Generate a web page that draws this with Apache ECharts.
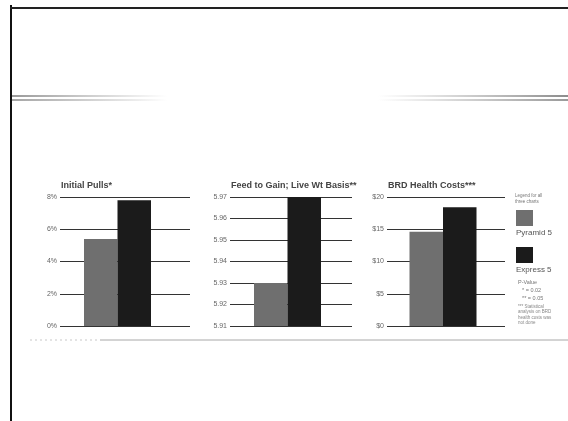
<!DOCTYPE html>
<html>
<head>
<meta charset="utf-8">
<script src="https://cdn.jsdelivr.net/npm/echarts@6/dist/echarts.min.js"></script>
<style>
  html, body { margin: 0; padding: 0; background: #fff; }
  #chart { width: 568px; height: 421px; }
</style>
</head>
<body>
<div id="chart"></div>
<script>
// Trial results, one panel per measure
const products = ['Pyramid 5', 'Express 5'];
const productColors = ['#6f6f6f', '#1b1b1b'];

const panelTitles = ['Initial Pulls*', 'Feed to Gain; Live Wt Basis**', 'BRD Health Costs***'];

const initialPulls = [5.4, 7.8];        // percent
const feedToGain = [5.93, 5.97];         // lb feed / lb gain
const brdHealthCosts = [14.6, 18.4];     // dollars per head

const pullsTicks = ['0%', '2%', '4%', '6%', '8%'];
const feedTicks = ['5.91', '5.92', '5.93', '5.94', '5.95', '5.96', '5.97'];
const costTicks = ['$0', '$5', '$10', '$15', '$20'];

const legendNote = ['Legend for all', 'three charts'];
const pValueLines = ['P-Value', '* = 0.02', '** = 0.05'];
const footNote = ['*** Statistical', 'analysis on BRD', 'health costs was', 'not done'];

const panels = [
  { values: initialPulls, ticks: pullsTicks, min: 0, max: 8, interval: 2,
    lineLeft: 60, lineRight: 190, barLeft: 60, barRight: 175 },
  { values: feedToGain, ticks: feedTicks, min: 5.91, max: 5.97, interval: 0.01,
    lineLeft: 230, lineRight: 352, barLeft: 230, barRight: 345 },
  { values: brdHealthCosts, ticks: costTicks, min: 0, max: 20, interval: 5,
    lineLeft: 387, lineRight: 505, barLeft: 387, barRight: 499 }
];

const TOP = 197, HEIGHT = 129, W = 568;
const labelFont = 'Liberation Sans, Arial, sans-serif';

const grids = [], xAxes = [], yAxes = [], series = [], titles = [];

panels.forEach((p, i) => {
  // grid carrying the horizontal rules and tick labels
  grids.push({ left: p.lineLeft, top: TOP, width: p.lineRight - p.lineLeft, height: HEIGHT });
  // grid carrying the bars
  grids.push({ left: p.barLeft, top: TOP, width: p.barRight - p.barLeft, height: HEIGHT });

  const lineGrid = 2 * i, barGrid = 2 * i + 1;
  const tickIndex = v => Math.round((v - p.min) / p.interval);

  xAxes.push({ gridIndex: lineGrid, type: 'category', data: [''], show: false });
  yAxes.push({
    gridIndex: lineGrid, type: 'value', min: p.min, max: p.max, interval: p.interval,
    axisLine: { show: false }, axisTick: { show: false },
    splitLine: { show: true, lineStyle: { color: '#333', width: 1 } },
    axisLabel: {
      color: '#666', fontSize: 7, fontFamily: labelFont, margin: 3,
      formatter: v => p.ticks[tickIndex(v)] || ''
    }
  });

  xAxes.push({ gridIndex: barGrid, type: 'category', data: [''], show: false });
  yAxes.push({ gridIndex: barGrid, type: 'value', min: p.min, max: p.max, show: false });

  products.forEach((name, k) => {
    series.push({
      type: 'bar', name: name,
      xAxisIndex: 2 * i + 1, yAxisIndex: 2 * i + 1,
      data: [p.values[k]],
      barWidth: 33.5, barGap: '0%',
      itemStyle: { color: productColors[k] },
      z: 3
    });
  });

  titles.push({
    text: panelTitles[i], left: p.lineLeft + 1, top: 181, padding: 0,
    textStyle: { fontSize: 9, fontWeight: 'bold', color: '#444', fontFamily: labelFont }
  });
});

// side legend and notes
const lgX = 515;
const graphics = [
  // page frame
  { type: 'rect', shape: { x: 10, y: 5, width: 2, height: 416 }, style: { fill: '#111' } },
  { type: 'rect', shape: { x: 10, y: 7, width: W - 10, height: 2 }, style: { fill: '#222' } },
  // decorative bands
  { type: 'rect', shape: { x: 12, y: 95, width: 155, height: 2 },
    style: { fill: new echarts.graphic.LinearGradient(0, 0, 1, 0, [{ offset: 0, color: '#9a9a9a' }, { offset: 1, color: 'rgba(160,160,160,0)' }]) } },
  { type: 'rect', shape: { x: 12, y: 99, width: 155, height: 2 },
    style: { fill: new echarts.graphic.LinearGradient(0, 0, 1, 0, [{ offset: 0, color: '#a6a6a6' }, { offset: 1, color: 'rgba(160,160,160,0)' }]) } },
  { type: 'rect', shape: { x: 378, y: 95, width: W - 378, height: 2 },
    style: { fill: new echarts.graphic.LinearGradient(0, 0, 1, 0, [{ offset: 0, color: 'rgba(160,160,160,0)' }, { offset: 1, color: '#8c8c8c' }]) } },
  { type: 'rect', shape: { x: 378, y: 99, width: W - 378, height: 2 },
    style: { fill: new echarts.graphic.LinearGradient(0, 0, 1, 0, [{ offset: 0, color: 'rgba(160,160,160,0)' }, { offset: 1, color: '#9a9a9a' }]) } },
  // lower separator
  { type: 'line', shape: { x1: 30, y1: 340, x2: 100, y2: 340 }, style: { stroke: '#c8c8c8', lineWidth: 1, lineDash: [2, 3] } },
  { type: 'line', shape: { x1: 100, y1: 340, x2: W, y2: 340 }, style: { stroke: '#a8a8a8', lineWidth: 1 } },
  // legend
  { type: 'text', x: lgX, y: 193, style: { text: legendNote.join('\n'), fontSize: 4.5, lineHeight: 6, fill: '#777', fontFamily: labelFont } },
  { type: 'rect', shape: { x: lgX + 1, y: 210, width: 17, height: 16 }, style: { fill: productColors[0] } },
  { type: 'text', x: lgX + 1, y: 229, style: { text: products[0], fontSize: 8, fill: '#555', fontFamily: labelFont } },
  { type: 'rect', shape: { x: lgX + 1, y: 247, width: 17, height: 16 }, style: { fill: productColors[1] } },
  { type: 'text', x: lgX + 1, y: 266, style: { text: products[1], fontSize: 8, fill: '#555', fontFamily: labelFont } },
  { type: 'text', x: lgX + 3, y: 279, style: { text: pValueLines[0], fontSize: 5.5, fill: '#777', fontFamily: labelFont } },
  { type: 'text', x: lgX + 7, y: 287, style: { text: pValueLines[1], fontSize: 5.5, fill: '#777', fontFamily: labelFont } },
  { type: 'text', x: lgX + 7, y: 295, style: { text: pValueLines[2], fontSize: 5.5, fill: '#777', fontFamily: labelFont } },
  { type: 'text', x: lgX + 3, y: 304, style: { text: footNote.join('\n'), fontSize: 4.5, lineHeight: 5.5, fill: '#888', fontFamily: labelFont } }
];

const chart = echarts.init(document.getElementById('chart'), null, { renderer: 'canvas' });
chart.setOption({
  backgroundColor: '#fff',
  animation: false,
  title: titles,
  grid: grids,
  xAxis: xAxes,
  yAxis: yAxes,
  series: series,
  graphic: graphics
});
</script>
</body>
</html>
